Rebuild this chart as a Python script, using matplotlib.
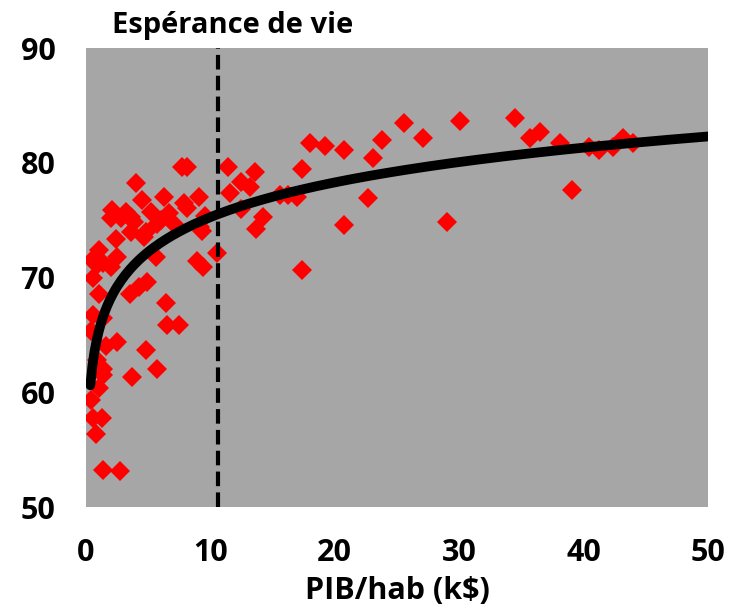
import numpy as np
import matplotlib
matplotlib.use("Agg")
import matplotlib.pyplot as plt

# PIB par habitant (k$) et esperance de vie (ans)
pib = [7.7, 8.1, 4.0, 9.1, 2.1, 4.5, 6.3, 7.9, 2.0, 3.2,
       3.9, 5.2, 6.0, 7.1, 9.2, 2.4, 3.6, 4.8, 1.05, 2.5,
       5.6, 8.9, 9.4, 10.5, 0.5, 1.4, 0.9, 2.0, 0.6, 1.05,
       4.3, 4.9, 3.5, 6.4, 0.6, 1.4, 6.5, 7.5, 0.4, 2.5,
       1.6, 4.8, 0.9, 5.7, 3.7, 1.4, 1.4, 1.05, 0.4, 0.6,
       1.3, 0.8, 1.4, 2.7, 11.4, 11.6, 12.5, 13.2, 13.6, 12.5,
       14.2, 13.7, 15.6, 16.2, 17.0, 9.3, 9.6, 8.1, 17.4, 17.4,
       18.0, 19.2, 20.7, 20.7, 22.7, 23.1, 23.8, 25.6, 27.1, 29.0,
       30.1, 34.5, 35.7, 36.5, 38.1, 39.1, 40.4, 41.2, 42.4, 43.2,
       44.0, 2.8, 3.6, 5.7, 6.7, 4.7]
vie = [79.6, 79.6, 78.2, 77.0, 75.9, 76.8, 77.0, 76.5, 75.2, 75.7,
       74.8, 75.7, 75.0, 74.7, 74.4, 73.4, 74.0, 74.0, 72.4, 71.8,
       71.8, 71.4, 70.9, 72.1, 71.5, 71.3, 71.1, 70.9, 70.0, 68.6,
       69.2, 69.6, 68.6, 67.8, 66.7, 66.5, 65.9, 65.9, 65.3, 64.4,
       64.0, 63.7, 62.8, 62.0, 61.3, 62.0, 61.5, 60.4, 59.3, 57.8,
       57.8, 56.4, 53.2, 53.1, 79.6, 77.4, 78.3, 77.9, 79.2, 76.0,
       75.3, 74.2, 77.2, 77.2, 77.0, 74.1, 75.4, 76.1, 70.7, 79.5,
       81.7, 81.5, 81.1, 74.6, 76.9, 80.4, 82.0, 83.5, 82.2, 74.8,
       83.6, 83.9, 82.2, 82.7, 81.7, 77.6, 81.4, 81.1, 81.4, 82.2,
       81.7, 75.2, 75.3, 74.7, 75.6, 73.5]

# tendance logarithmique
coef_a = 65.2
coef_b = 4.37
seuil = 10.6

plt.rcParams['font.family'] = ['Open Sans', 'DejaVu Sans']
plt.rcParams['font.weight'] = 'bold'

fig = plt.figure(figsize=(7.31, 6.08), dpi=100)
ax = fig.add_axes([0.1176, 0.166, 0.851, 0.755])
ax.set_facecolor('#a6a6a6')

ax.plot(pib, vie, linestyle='none', marker='D', markersize=10,
        color='#ff0000', markeredgewidth=0, zorder=2)
ax.axvline(seuil, color='black', lw=3, dashes=(3.5, 1.5), zorder=3)

xc = np.linspace(0.35, 50, 300)
ax.plot(xc, coef_a + coef_b * np.log(xc), color='black', lw=7,
        solid_capstyle='round', zorder=4)

ax.set_xlim(0, 50)
ax.set_ylim(50, 90)
ax.set_xticks([0, 10, 20, 30, 40, 50])
ax.set_yticks([50, 60, 70, 80, 90])
ax.tick_params(length=0, labelsize=22, pad=22)
for s in ax.spines.values():
    s.set_visible(False)

ax.set_xlabel('PIB/hab (k$)', fontsize=22, fontweight='bold', labelpad=6)
fig.text(112 / 731, 1 - 26 / 608, 'Espérance de vie', fontsize=21,
         fontweight='bold', va='center', ha='left')

fig.savefig('out.png', dpi=100)
